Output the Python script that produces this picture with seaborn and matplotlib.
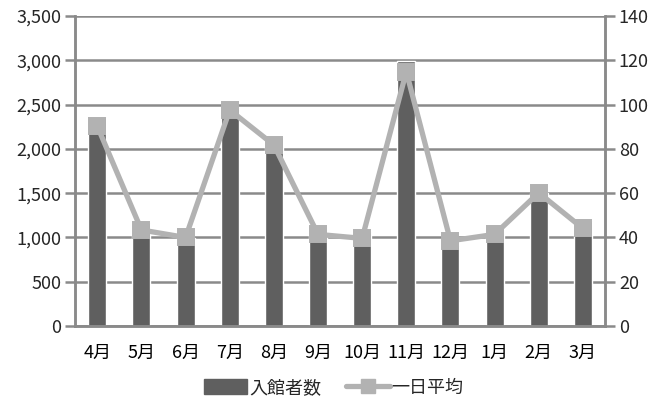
import matplotlib
matplotlib.use("Agg")
import matplotlib.pyplot as plt
import numpy as np
import pandas as pd
import seaborn as sns
from matplotlib.lines import Line2D
from matplotlib.patches import Patch

months = ["4月", "5月", "6月", "7月", "8月", "9月", "10月", "11月", "12月", "1月", "2月", "3月"]
visitors = [2360, 1165, 995, 2460, 2140, 1040, 1065, 2990, 900, 1035, 1500, 1185]
daily_avg = [90.3, 43.4, 40.0, 97.6, 81.8, 41.4, 39.6, 114.9, 38.5, 41.4, 60.2, 44.1]

df = pd.DataFrame({"month": months, "visitors": visitors, "avg": daily_avg})

sns.set_theme(style="white")
plt.rcParams["font.family"] = ["Noto Sans CJK JP", "DejaVu Sans"]

bar_c = "#5f5f5f"
line_c = "#b2b2b2"
grid_c = "#8a8a8a"
fs = 13

fig, ax = plt.subplots(figsize=(6.54, 4.03), dpi=100)
fig.subplots_adjust(left=0.115, right=0.925, top=0.960, bottom=0.191)

sns.barplot(data=df, x="month", y="visitors", color=bar_c, width=0.41,
            saturation=1, ax=ax, zorder=2)
ax.set_axisbelow(True)
ax.set_ylim(0, 3500)
ax.set_yticks(np.arange(0, 3501, 500))
ax.set_yticklabels([f"{v:,}" for v in range(0, 3501, 500)])
ax.yaxis.grid(True, color=grid_c, linewidth=1.8)
ax.set_xlabel("")
ax.set_ylabel("")

ax2 = ax.twinx()
sns.pointplot(data=df, x="month", y="avg", color=line_c, markers="s",
              markersize=10.5, linewidth=3.8, ax=ax2)
ax2.set_ylim(0, 140)
ax2.set_yticks(np.arange(0, 141, 20))
ax2.set_ylabel("")
ax2.set_xlim(-0.5, 11.5)
ax.set_xlim(-0.5, 11.5)

# tick marks between categories, labels centred under bars
ax.set_xticks(np.arange(12))
ax.set_xticklabels(months)
ax.set_xticks(np.arange(-0.5, 12, 1), minor=True)
ax.tick_params(axis="x", which="major", length=0, pad=13, labelsize=fs, colors="black")
ax.tick_params(axis="x", which="minor", length=6, width=1.8, color=grid_c, direction="out")
ax.tick_params(axis="y", length=7, width=1.8, color=grid_c, labelsize=fs, pad=3, left=True)
ax2.tick_params(axis="y", length=7, width=1.8, color=grid_c, labelsize=fs, pad=3, right=True)

for a in (ax, ax2):
    a.spines["top"].set_visible(False)
    for side in ("left", "right", "bottom"):
        a.spines[side].set_color(grid_c)
        a.spines[side].set_linewidth(1.8)

handles = [
    Patch(facecolor=bar_c, edgecolor=bar_c),
    Line2D([0], [0], color=line_c, linewidth=3.8, marker="s", markersize=10.5),
]
fig.legend(handles, ["入館者数", "一日平均"], loc="lower center", ncol=2,
           bbox_to_anchor=(0.51, -0.025), frameon=False, fontsize=fs,
           handlelength=2.4, handleheight=0.9, handletextpad=0.1, columnspacing=1.4)

fig.savefig("out.png", dpi=100)
